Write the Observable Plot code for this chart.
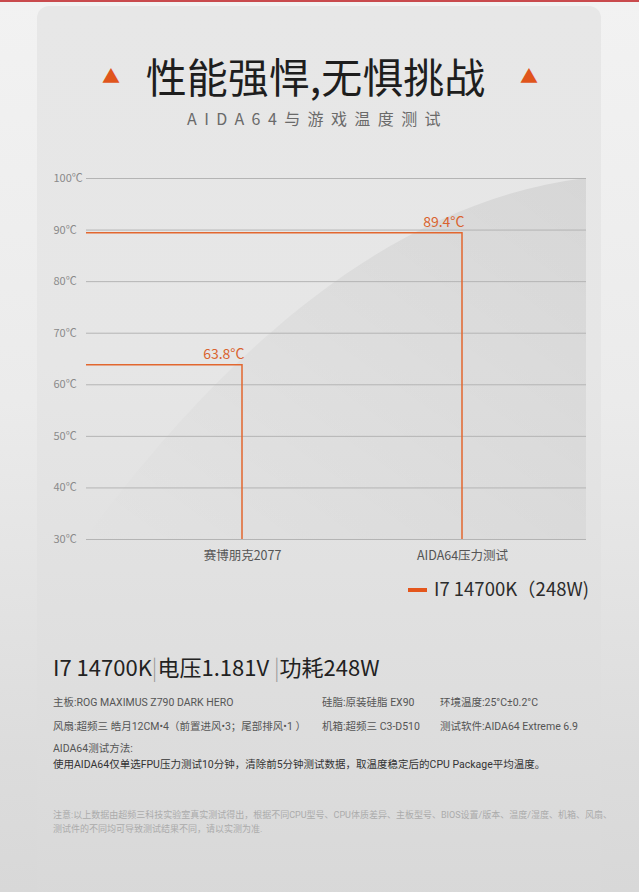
<!DOCTYPE html>
<html>
<head>
<meta charset="utf-8">
<script src="https://cdn.jsdelivr.net/npm/d3@7"></script>
<script src="https://cdn.jsdelivr.net/npm/@observablehq/plot@0.6"></script>
<style>
  html, body { margin: 0; padding: 0; }
  body {
    width: 639px; height: 892px; position: relative; overflow: hidden;
    font-family: "Noto Sans CJK SC", "Noto Sans", sans-serif;
    background: linear-gradient(180deg, #f2f2f2 0%, #ebebeb 45%, #dcdcdc 85%, #d8d8d8 100%);
  }
  .topline { position: absolute; left: 0; top: 0; width: 639px; height: 2px; background: #c94a4d; }
  .card {
    position: absolute; left: 37px; top: 6px; width: 564px; height: 900px; border-radius: 12px;
    background: linear-gradient(180deg, #e7e7e7 0%, #e6e6e6 40%, #dcdcdc 85%, #d8d8d8 100%);
  }
  .abs { position: absolute; white-space: nowrap; }
  .title { left: 0; width: 639px; top: 47px; text-align: center; font-size: 41px; line-height: 56px; color: #1e1e1e; font-weight: 400; padding-right: 8px; box-sizing: border-box; }
  .tri { position: absolute; top: 65px; font-size: 18px; line-height: 20px; color: #e0551c; }
  .subtitle { left: 0; width: 639px; top: 106px; text-align: center; font-size: 16px; line-height: 24px; color: #6a6a6a; letter-spacing: 7.4px; padding-right: 4px; box-sizing: border-box; }
  #chart { position: absolute; left: 0; top: 160px; }
  .deco { position: absolute; left: 0; top: 0; }
  .legend { left: 408px; top: 575px; font-size: 18.5px; line-height: 26px; color: #2b2b2b; }
  .legend .sw { display: inline-block; width: 19px; height: 4px; background: #e4561c; vertical-align: middle; margin-right: 7px; position: relative; top: -1px; }
  .head { left: 53px; top: 651px; font-size: 22px; line-height: 30px; color: #222; }
  .head .sep { color: #999; font-weight: 300; }
  .spec { font-family: Roboto, "Noto Sans CJK SC", sans-serif; font-size: 10.5px; line-height: 16px; color: #555; }
  .note { left: 53px; top: 809px; width: 560px; white-space: normal; font-family: Roboto, "Noto Sans CJK SC", sans-serif; font-size: 9px; line-height: 13.5px; color: #ababab; }
</style>
</head>
<body>
<div class="topline"></div>
<div class="card"></div>
<svg class="deco" width="639" height="892">
  <defs>
    <linearGradient id="dg" x1="0" y1="1" x2="1" y2="0">
      <stop offset="0" stop-color="#000" stop-opacity="0.0"/>
      <stop offset="0.5" stop-color="#000" stop-opacity="0.035"/>
      <stop offset="1" stop-color="#000" stop-opacity="0.07"/>
    </linearGradient>
    <clipPath id="dc"><rect x="86" y="176" width="500" height="364"/></clipPath>
  </defs>
  <path clip-path="url(#dc)" d="M80 545 C230 340 400 200 586 178 L586 545 Z" fill="url(#dg)"/>
</svg>

<div class="abs title">性能强悍,无惧挑战</div>
<div class="tri" style="left:102px">▲</div>
<div class="tri" style="left:520px">▲</div>
<div class="abs subtitle">AIDA64与游戏温度测试</div>

<div id="chart"></div>

<div class="abs legend"><span class="sw"></span><span id="legendText"></span></div>

<div class="abs head">I7 14700K<span class="sep">|</span>电压1.181V <span class="sep">|</span>功耗248W</div>
<div class="abs spec" style="left:53px;top:695px">主板:ROG MAXIMUS Z790 DARK HERO</div>
<div class="abs spec" style="left:322px;top:695px">硅脂:原装硅脂 EX90</div>
<div class="abs spec" style="left:440px;top:695px">环境温度:25°C±0.2°C</div>
<div class="abs spec" style="left:53px;top:719px">风扇:超频三 皓月12CM•4（前置进风•3；尾部排风•1 ）</div>
<div class="abs spec" style="left:322px;top:719px">机箱:超频三 C3-D510</div>
<div class="abs spec" style="left:440px;top:719px">测试软件:AIDA64 Extreme 6.9</div>
<div class="abs spec" style="left:53px;top:741px">AIDA64测试方法:</div>
<div class="abs spec" style="left:53px;top:757px;color:#333">使用AIDA64仅单选FPU压力测试10分钟，清除前5分钟测试数据，取温度稳定后的CPU Package平均温度。</div>
<div class="abs note">注意:以上数据由超频三科技实验室真实测试得出，根据不同CPU型号、CPU体质差异、主板型号、BIOS设置/版本、温度/湿度、机箱、风扇、测试件的不同均可导致测试结果不同，请以实测为准.</div>

<script>
const categories = ["赛博朋克2077", "AIDA64压力测试"];
const temps = [63.8, 89.4];
const yTicks = [30, 40, 50, 60, 70, 80, 90, 100];
const seriesName = "I7 14700K（248W)";

const data = categories.map((name, i) => ({name, temp: temps[i]}));
const orange = "#e2672f";
const yBase = yTicks[0];

document.getElementById("legendText").textContent = seriesName;

// step line: from the left edge of the frame at the value, across to the category, then down to the base
function stepLines(index, scales, values, dimensions) {
  const g = d3.create("svg:g").attr("fill", "none").attr("stroke", orange).attr("stroke-width", 1.5);
  for (const d of data) {
    const x = scales.x(d.name);
    const y = scales.y(d.temp);
    const y0 = scales.y(yBase);
    g.append("path").attr("d", `M${dimensions.marginLeft},${y}H${x}V${y0}`);
  }
  return g.node();
}

const chart = Plot.plot({
  width: 639,
  height: 420,
  marginLeft: 86,
  marginRight: 53,
  marginTop: 18,
  marginBottom: 41,
  style: {background: "transparent", fontFamily: "'Noto Sans CJK SC', 'Noto Sans', sans-serif", overflow: "visible"},
  x: {type: "point", domain: categories, range: [241.5, 461.5], padding: 0, label: null},
  y: {domain: [30, 100], label: null},
  marks: [
    Plot.ruleY(yTicks, {stroke: "#b4b4b4", strokeWidth: 1}),
    Plot.axisY(yTicks, {tickSize: 0, tickPadding: 33, textAnchor: "start", tickFormat: d => d + "℃", fontSize: 11, fill: "#8a8a8a"}),
    Plot.axisX({tickSize: 0, tickPadding: 12, fontSize: 12.5, fill: "#555"}),
    stepLines,
    Plot.text(data, {x: "name", y: "temp", text: d => d.temp + "°C", textAnchor: "end", dx: 2, dy: -11, fill: "#d9622e", fontSize: 14})
  ]
});
document.getElementById("chart").appendChild(chart);
</script>
</body>
</html>
